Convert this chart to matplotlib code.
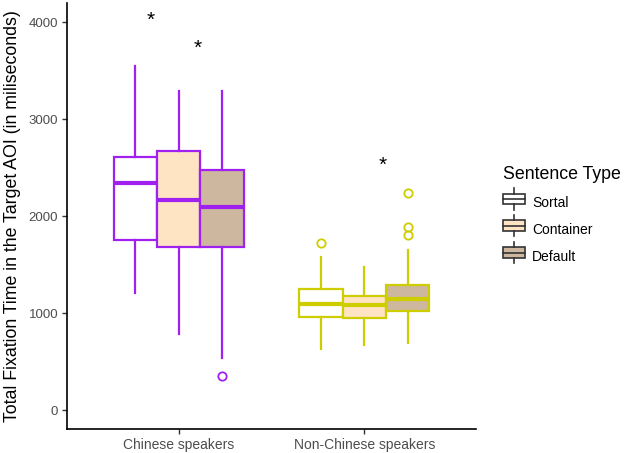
import matplotlib
matplotlib.use("Agg")
import matplotlib.pyplot as plt
from matplotlib.legend_handler import HandlerBase
from matplotlib.patches import Rectangle
from matplotlib.lines import Line2D

plt.rcParams['font.family'] = ['Liberation Sans', 'DejaVu Sans']

# data (milliseconds)
groups = ["Chinese speakers", "Non-Chinese speakers"]
types = ["Sortal", "Container", "Default"]
# per group, per type: whislo, q1, med, q3, whishi
chinese_stats = [
    [1210, 1753, 2340, 2612, 3546],
    [780, 1677, 2162, 2673, 3292],
    [533, 1677, 2089, 2471, 3292],
]
nonchinese_stats = [
    [632, 956, 1093, 1251, 1574],
    [667, 952, 1086, 1179, 1471],
    [694, 1017, 1141, 1289, 1649],
]
chinese_fliers = [[], [], [350]]
nonchinese_fliers = [[1725], [], [2240, 1887, 1804]]
# significance stars: (x, y)
star_x = [-0.15, 0.10, 1.10]
star_y = [4020, 3728, 2525]

fills = ["#FFFFFF", "#FFE4C4", "#CDB79E"]
edges = ["#A020F0", "#CDCD00"]

fig = plt.figure(figsize=(6.24, 4.53), dpi=100)
ax = fig.add_axes([0.1079, 0.0523, 0.6544, 0.9411])

width = 0.233
offsets = [-width, 0, width]
all_stats = [chinese_stats, nonchinese_stats]
all_fliers = [chinese_fliers, nonchinese_fliers]
for g in range(2):
    for t in range(3):
        lo, q1, med, q3, hi = all_stats[g][t]
        st = dict(whislo=lo, q1=q1, med=med, q3=q3, whishi=hi, fliers=all_fliers[g][t])
        ec = edges[g]
        ax.bxp([st], positions=[g + offsets[t]], widths=width, patch_artist=True,
               showcaps=False,
               boxprops=dict(facecolor=fills[t], edgecolor=ec, linewidth=1.6),
               whiskerprops=dict(color=ec, linewidth=1.6),
               medianprops=dict(color=ec, linewidth=3, solid_capstyle='butt'),
               flierprops=dict(marker='o', markerfacecolor='none', markeredgecolor=ec,
                               markersize=6, markeredgewidth=1.3))

for x, y in zip(star_x, star_y):
    ax.text(x, y, "*", ha='center', va='center', fontsize=15, color='black')

ax.set_xlim(-0.6, 1.6)
ax.set_ylim(-199, 4196)
ax.set_xticks([0, 1])
ax.set_xticklabels(groups)
ax.set_yticks([0, 1000, 2000, 3000, 4000])
ax.tick_params(axis='both', colors='#333333', labelcolor='#4D4D4D', length=3.5, width=1, pad=3)
ax.tick_params(axis='x', labelsize=10)
ax.tick_params(axis='y', labelsize=9.5)
for s in ['top', 'right']:
    ax.spines[s].set_visible(False)
for s in ['left', 'bottom']:
    ax.spines[s].set_linewidth(1.2)
ax.set_ylabel("Total Fixation Time in the Target AOI (in miliseconds)", fontsize=12.8,
              color='black', labelpad=5.5)


class BoxKey(HandlerBase):
    def create_artists(self, legend, orig_handle, xdescent, ydescent, width, height, fontsize, trans):
        fc = orig_handle.get_facecolor()
        cx = width / 2 - xdescent
        top = height * 0.83
        bot = height * 0.17
        rect = Rectangle((-xdescent, bot), width, top - bot, facecolor=fc, edgecolor='#333333',
                         linewidth=1.2, transform=trans)
        med = Line2D([-xdescent, width - xdescent], [height / 2] * 2, color='#333333', lw=1.2,
                     transform=trans)
        w1 = Line2D([cx, cx], [top, height * 1.17], color='#333333', lw=1.2, transform=trans)
        w2 = Line2D([cx, cx], [bot, -height * 0.17], color='#333333', lw=1.2, transform=trans)
        return [rect, med, w1, w2]


handles = [Rectangle((0, 0), 1, 1, facecolor=f) for f in fills]
leg = fig.legend(handles, types, handler_map={Rectangle: BoxKey()}, title="Sentence Type",
                 loc='upper left', bbox_to_anchor=(0.7965, 0.645), frameon=False,
                 fontsize=10, title_fontsize=12.8, handlelength=1.63, handleheight=1.4,
                 handletextpad=0.5, labelspacing=0.78, borderaxespad=0)
leg._legend_box.align = "left"

fig.savefig("out.png", dpi=100)
